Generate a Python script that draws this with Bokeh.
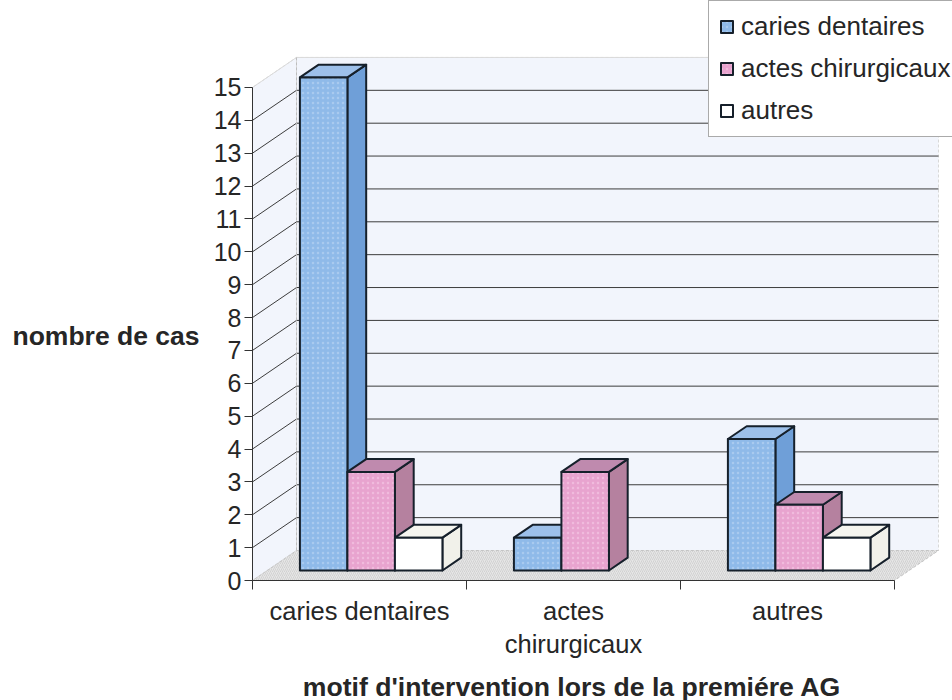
from bokeh.embed import file_html
from bokeh.resources import INLINE
from bokeh.plotting import figure
from bokeh.models import (LinearAxis, FixedTicker, Range1d, Legend, LegendItem, Label)

categories = ["caries dentaires", "actes\nchirurgicaux", "autres"]
series_names = ["caries dentaires", "actes chirurgicaux", "autres"]
caries = [15, 1, 4]
actes = [3, 3, 2]
autres = [1, 0, 1]
y_ticks = list(range(16))

W, H = 952, 700
PX_X0, PX_Y0 = 252, 580              # origin of the front plane in the figure
UX, UY = 214.0, 32.87                # pixels per category / per case
DX, DY = 44 / UX, 30 / UY            # full depth of the 3D box, in data units

p = figure(width=W, height=H, output_backend="svg", toolbar_location=None,
           x_range=Range1d(-PX_X0 / UX, (W - PX_X0) / UX),
           y_range=Range1d((PX_Y0 - H) / UY, PX_Y0 / UY),
           x_axis_type=None, y_axis_type=None, min_border=0,
           outline_line_color=None, background_fill_color="white", border_fill_color="white")
p.grid.visible = False

# walls and floor
wall = "#f2f5fc"
p.patch([DX, 3 + DX, 3 + DX, DX], [DY, DY, 15 + DY, 15 + DY], fill_color=wall, line_color="#d8d8d8",
        line_dash="3 2", line_width=1)
p.patch([0, DX, DX, 0], [0, DY, 15 + DY, 15], fill_color=wall, line_color="#d8d8d8",
        line_dash="3 2", line_width=1)
p.patch([0, 3, 3 + DX, DX], [0, 0, DY, DY], fill_color="#e6e6e6", line_color="#c4c4c4", line_dash="3 2",
        hatch_pattern="right_diagonal_line", hatch_color="#c9c9c9", hatch_scale=4, hatch_weight=0.7)

# gridlines
for v in y_ticks[1:]:
    col = "#3c3c3c" if v < 15 else "#dadada"
    p.line([0, DX, 3 + DX], [v, v + DY, v + DY], line_color=col, line_width=1)
p.line([DX, DX], [DY, 15 + DY], line_color="#bdbdbd", line_width=1, line_dash="3 2")

# bars
T0, T1 = 1 / 3, 0.76
OFF, BW = 0.153, 0.222
styles = [("#8fbae9", "#6f9fd8", "#9dc0ea", "#b4d2f2"),
          ("#e8a4cf", "#b5819f", "#bf8aae", "#f3c4e2"),
          ("#ffffff", "#f1f1ea", "#f5f5ef", "#ffffff")]
edge = "#16202b"
legend_items = []
for s, (name, vals, (front, side, top, mottle)) in enumerate(zip(series_names, [caries, actes, autres], styles)):
    fx, fy, sx, sy, tx, ty = [], [], [], [], [], []
    for c, v in enumerate(vals):
        if v <= 0:
            continue
        x0 = c + OFF + BW * s + DX * T0
        x1 = x0 + BW
        b0 = DY * T0
        dx, dy = DX * (T1 - T0), DY * (T1 - T0)
        fx.append([x0, x1, x1, x0]); fy.append([b0, b0, b0 + v, b0 + v])
        sx.append([x1, x1 + dx, x1 + dx, x1]); sy.append([b0, b0 + dy, b0 + v + dy, b0 + v])
        tx.append([x0, x1, x1 + dx, x0 + dx]); ty.append([b0 + v, b0 + v, b0 + v + dy, b0 + v + dy])
    p.patches(sx, sy, fill_color=side, line_color=edge, line_width=2, line_join="round")
    p.patches(tx, ty, fill_color=top, line_color=edge, line_width=2, line_join="round")
    r = p.patches(fx, fy, fill_color=front, line_color=edge, line_width=2, line_join="round",
                  hatch_pattern="dot", hatch_color=mottle, hatch_scale=5, hatch_alpha=0.7)
    legend_items.append(LegendItem(label=name, renderers=[r]))

FONT = "Liberation Sans"
TXT = "#262626"

# axes
yax = LinearAxis(fixed_location=0, bounds=(0, 15), ticker=FixedTicker(ticks=y_ticks))
yax.major_label_text_font = FONT
yax.major_label_text_font_size = "25px"
yax.major_label_text_color = TXT
yax.major_tick_in = 0
yax.major_tick_out = 8
yax.minor_tick_line_color = None
yax.major_label_standoff = 3
yax.axis_line_color = "#333333"
yax.major_tick_line_color = "#333333"
p.add_layout(yax, "left")

xax = LinearAxis(fixed_location=0, bounds=(0, 3),
                 ticker=FixedTicker(ticks=[0.5, 1.5, 2.5], minor_ticks=[0, 1, 2, 3]))
xax.major_label_overrides = {0.5: categories[0], 1.5: categories[1], 2.5: categories[2]}
xax.major_label_text_font = FONT
xax.major_label_text_font_size = "25.5px"
xax.major_label_text_color = TXT
xax.major_tick_line_color = None
xax.major_tick_in = 0
xax.major_tick_out = 0
xax.minor_tick_in = 0
xax.minor_tick_out = 9
xax.minor_tick_line_color = "#333333"
xax.major_label_standoff = 7
xax.axis_line_color = "#333333"
p.add_layout(xax, "below")

# axis titles
p.add_layout(Label(x=(105.5 - 252) / UX, y=(580 - 335) / UY, text="nombre de cas", text_align="center",
                   text_baseline="middle", text_font=FONT, text_font_style="bold", text_font_size="26.5px",
                   text_color=TXT))
p.add_layout(Label(x=(571.5 - 252) / UX, y=(580 - 686) / UY, text="motif d'intervention lors de la premiére AG",
                   text_align="center", text_baseline="middle", text_font=FONT, text_font_style="bold",
                   text_font_size="26.6px", text_color=TXT))

legend = Legend(items=legend_items, location=(708, 563), orientation="vertical",
                label_text_font=FONT, label_text_font_size="26px", label_text_color=TXT,
                glyph_width=15, glyph_height=15, spacing=11, padding=10, margin=0,
                label_standoff=7, border_line_color="#555555", border_line_width=1,
                background_fill_color="white", background_fill_alpha=1)
p.add_layout(legend)

open("out.html", "w").write(file_html(p, INLINE))
